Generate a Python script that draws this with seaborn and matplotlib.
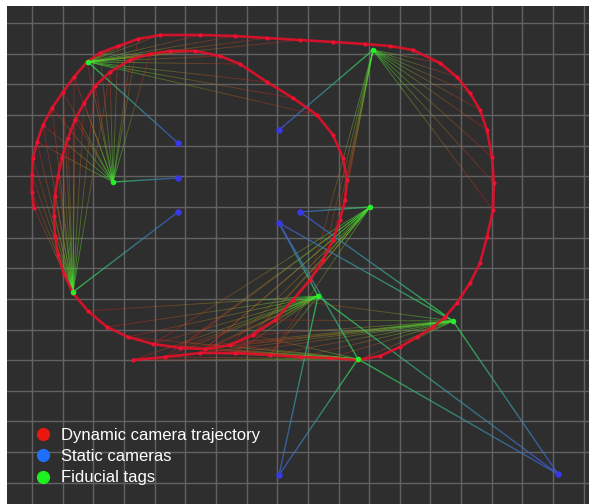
import numpy as np
import matplotlib
matplotlib.use('Agg')
import matplotlib.pyplot as plt
from matplotlib.collections import LineCollection
from matplotlib.lines import Line2D
import seaborn as sns

# 장면 좌표 (화면 기준, y 아래로 증가) - 격자 한 칸 = 30.65
# 동적 카메라 궤적 1: 아래 직선 -> 오른쪽 큰 원 -> 위 -> 왼쪽 바깥 호
outer_x = [133, 165, 200, 235, 270, 300, 330, 358, 380, 400, 417, 433, 445, 457, 470, 480,
           487, 493, 494, 492, 487, 480, 470, 457, 440, 413, 390, 365, 333, 300, 267, 235,
           200, 160, 138, 118, 100, 87, 74, 63, 52, 43, 37, 33, 32, 32, 34]
outer_y = [360, 357, 353, 353, 355, 357, 358, 360, 356, 347, 337, 327, 317, 303, 283, 263,
           237, 210, 183, 157, 130, 110, 93, 77, 63, 50, 46, 44, 42, 40, 38, 36,
           35, 35, 39, 46, 53, 62, 77, 92, 108, 125, 142, 158, 175, 192, 208]

# 동적 카메라 궤적 2: 안쪽 닫힌 고리
inner_x = [73, 88, 107, 128, 153, 180, 205, 230, 253, 275, 293, 310, 323, 333, 340, 345,
           347, 343, 333, 317, 293, 267, 240, 220, 195, 170, 150, 130, 110, 95, 84, 75,
           68, 62, 58, 55, 54, 55, 58, 64, 73]
inner_y = [293, 311, 327, 337, 344, 348, 349, 345, 335, 320, 300, 280, 260, 240, 220, 200,
           180, 158, 135, 115, 98, 82, 64, 56, 51, 51, 54, 60, 72, 86, 103, 120,
           138, 157, 176, 196, 216, 236, 255, 274, 293]

# fiducial tags
tag_x = [88, 373, 113, 73, 370, 318, 453, 358]
tag_y = [62, 50, 182, 292, 207, 296, 321, 359]

# static cameras
cam_x = [178, 178, 178, 279, 300, 279, 279, 558]
cam_y = [143, 178, 212, 130, 212, 223, 475, 474]

# 정적 카메라 -> 태그 관측 (camera idx, tag idx)
cam_links = [(0, 0), (1, 2), (2, 3), (3, 1), (4, 4), (4, 6), (5, 5), (5, 6), (5, 7),
             (6, 5), (6, 7), (7, 5), (7, 6), (7, 7)]

# 태그별로 관측한 궤적 pose 구간 (start, end 포함)
views_outer = {0: (29, 36), 1: (17, 24), 2: (34, 42), 3: (38, 46),
               4: (1, 4), 5: (0, 4), 6: (2, 8), 7: (0, 6)}
views_inner = {0: (19, 26), 1: (11, 16), 2: (26, 31), 3: (28, 36),
               4: (4, 11), 5: (1, 8), 6: (5, 10), 7: (3, 8)}

legend_labels = ['Dynamic camera trajectory', 'Static cameras', 'Fiducial tags']


def gradient(p0, p1, c0, c1, n=8):
    # 선분 하나를 잘게 나눠서 색을 c0 -> c1 로 변화
    t = np.linspace(0, 1, n + 1)
    pts = p0 + (p1 - p0) * t[:, None]
    segs = np.stack([pts[:-1], pts[1:]], axis=1)
    mid = (t[:-1] + t[1:]) / 2
    cols = c0 + (c1 - c0) * mid[:, None]
    return list(segs), list(cols)


sns.set_theme(style='darkgrid', rc={'axes.facecolor': '#2e2e2e',
                                    'grid.color': '#626262',
                                    'grid.linewidth': 1.0})
plt.rcParams['font.family'] = ['Liberation Sans', 'DejaVu Sans']

fig = plt.figure(figsize=(5.89, 5.04), dpi=100)
ax = fig.add_axes([7 / 589, 0, 582 / 589, 498 / 504])

red = np.array([0.92, 0.08, 0.10, 0.40])
green = np.array([0.25, 0.95, 0.20, 0.55])

# pose -> tag 관측선
segs, cols = [], []
for traj_x, traj_y, views in [(outer_x, outer_y, views_outer), (inner_x, inner_y, views_inner)]:
    for tag, (a, b) in views.items():
        pt = np.array([tag_x[tag], tag_y[tag]], float)
        for i in range(a, b + 1):
            pp = np.array([traj_x[i], traj_y[i]], float)
            s, c = gradient(pp, pt, red, green)
            segs += s
            cols += c
ax.add_collection(LineCollection(segs, colors=cols, linewidths=0.65, zorder=2))

# 정적 카메라 -> 태그 선
blue = np.array([0.25, 0.35, 0.85, 0.75])
green2 = np.array([0.20, 0.85, 0.30, 0.75])
segs, cols = [], []
for ci, ti in cam_links:
    s, c = gradient(np.array([cam_x[ci], cam_y[ci]], float),
                    np.array([tag_x[ti], tag_y[ti]], float), blue, green2)
    segs += s
    cols += c
ax.add_collection(LineCollection(segs, colors=cols, linewidths=1.0, zorder=3))

# 궤적
for traj_x, traj_y in [(outer_x, outer_y), (inner_x, inner_y)]:
    sns.lineplot(x=traj_x, y=traj_y, sort=False, estimator=None, color='#e3102a',
                 lw=1.9, alpha=0.9, ax=ax, zorder=4)
    sns.scatterplot(x=traj_x, y=traj_y, color='#f01030', s=9, linewidth=0, ax=ax, zorder=5)

sns.scatterplot(x=cam_x, y=cam_y, color='#3838e8', s=22, linewidth=0, ax=ax, zorder=6)
sns.scatterplot(x=tag_x, y=tag_y, color='#28f028', s=16, linewidth=0, ax=ax, zorder=7)

ax.set_xlim(7, 589)
ax.set_ylim(504, 6)
ax.set_xticks(np.arange(32, 589, 30.65))
ax.set_yticks(np.arange(23, 504, 30.65))
ax.set_xticklabels([])
ax.set_yticklabels([])
ax.tick_params(length=0)
ax.set_xlabel('')
ax.set_ylabel('')
for sp in ax.spines.values():
    sp.set_visible(False)

handles = [Line2D([], [], marker='o', ls='', color=c, markersize=8.5, label=l)
           for c, l in zip(['#e8170f', '#1f6fff', '#1ff01f'], legend_labels)]
ax.legend(handles=handles, loc='upper left', bbox_to_anchor=(0.047, 0.153),
          frameon=False, labelcolor='white', fontsize=12, handlelength=1.0,
          handletextpad=0.6, labelspacing=0.38, borderaxespad=0, borderpad=0)

fig.savefig('out.png', dpi=100)
